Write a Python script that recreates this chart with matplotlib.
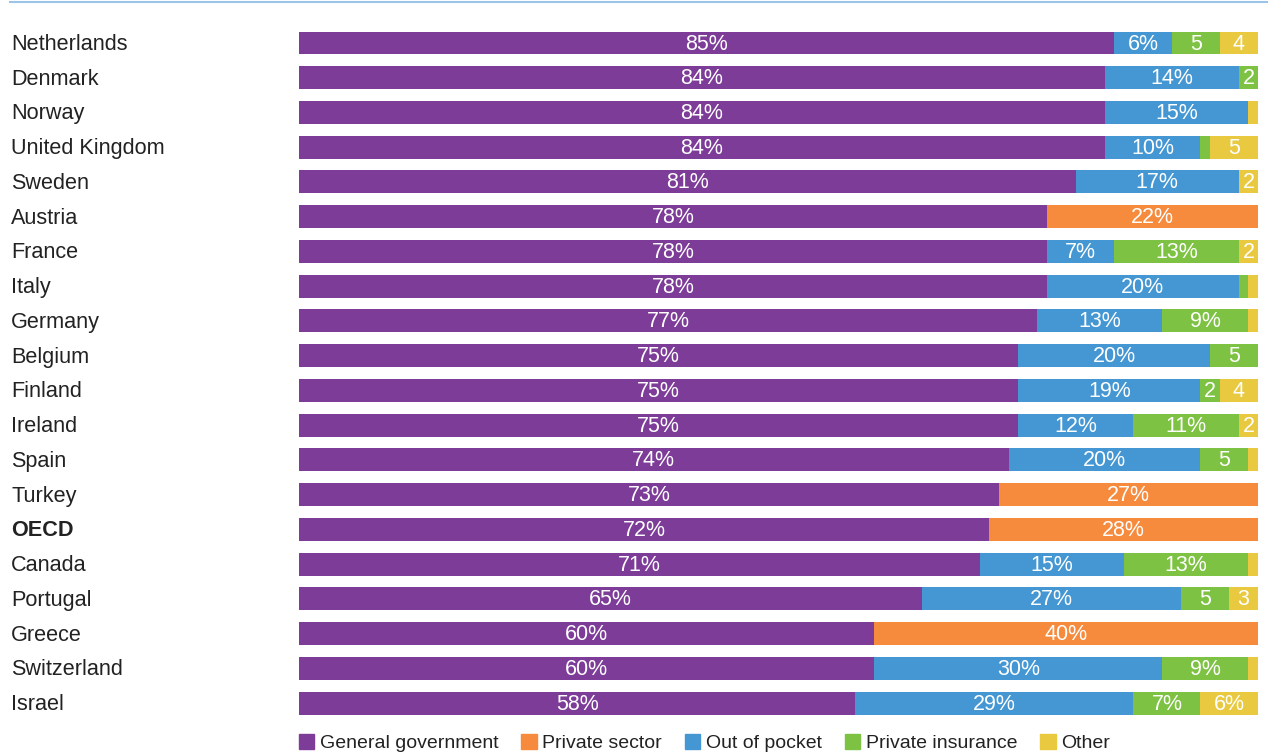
import matplotlib.pyplot as plt
import matplotlib.patches as mpatches
from matplotlib.lines import Line2D

plt.rcParams['font.family'] = ['Liberation Sans', 'DejaVu Sans']

countries = ["Netherlands", "Denmark", "Norway", "United Kingdom", "Sweden", "Austria",
             "France", "Italy", "Germany", "Belgium", "Finland", "Ireland", "Spain",
             "Turkey", "OECD", "Canada", "Portugal", "Greece", "Switzerland", "Israel"]

general_government = [85, 84, 84, 84, 81, 78, 78, 78, 77, 75, 75, 75, 74, 73, 72, 71, 65, 60, 60, 58]
private_sector     = [0, 0, 0, 0, 0, 22, 0, 0, 0, 0, 0, 0, 0, 27, 28, 0, 0, 40, 0, 0]
out_of_pocket      = [6, 14, 15, 10, 17, 0, 7, 20, 13, 20, 19, 12, 20, 0, 0, 15, 27, 0, 30, 29]
private_insurance  = [5, 2, 0, 1, 0, 0, 13, 1, 9, 5, 2, 11, 5, 0, 0, 13, 5, 0, 9, 7]
other              = [4, 0, 1, 5, 2, 0, 2, 1, 1, 0, 4, 2, 1, 0, 0, 1, 3, 0, 1, 6]

series = [
    ("General government", general_government, "#7D3C98"),
    ("Private sector", private_sector, "#F68B3D"),
    ("Out of pocket", out_of_pocket, "#4497D3"),
    ("Private insurance", private_insurance, "#7DC242"),
    ("Other", other, "#E8C93F"),
]


def seg_label(v):
    if v >= 6:
        return f"{v}%"
    if v >= 2:
        return str(v)
    return ""


fig = plt.figure(figsize=(12.68, 7.55), dpi=100)
ax = fig.add_axes([299 / 1268, 0.0458, 959 / 1268, 0.9203])

y = list(range(len(countries)))
left = [0] * len(countries)
for name, vals, color in series:
    ax.barh(y, vals, left=left, height=0.66, color=color, edgecolor="none")
    for i, v in enumerate(vals):
        txt = seg_label(v)
        if txt:
            ax.text(left[i] + v / 2, i + 0.03, txt, ha="center", va="center",
                    color="white", fontsize=15.5)
    left = [a + b for a, b in zip(left, vals)]

ax.set_xlim(0, 100)
ax.set_ylim(len(countries) - 0.5, -0.5)
ax.axis("off")

# country names down the left edge
for i, c in enumerate(countries):
    fig.text(11 / 1268, ax.transData.transform((0, i))[1] / fig.bbox.height - 0.002, c,
             ha="left", va="center", fontsize=15.6, color="#222222",
             fontweight="bold" if c == "OECD" else "normal")

# thin rule along the top
fig.add_artist(Line2D([10 / 1268, 1], [1 - 1.5 / 755, 1 - 1.5 / 755],
                      color="#9CC3E8", linewidth=1.5))

handles = [mpatches.Patch(color=c, label=n) for n, _, c in series]
fig.legend(handles=handles, loc="lower left", bbox_to_anchor=(281 / 1268, -0.019),
           ncol=5, frameon=False, fontsize=14, handlelength=0.8, handleheight=0.8,
           handletextpad=0.3, columnspacing=1.16, labelcolor="#222222")

fig.savefig("out.png", dpi=100)
